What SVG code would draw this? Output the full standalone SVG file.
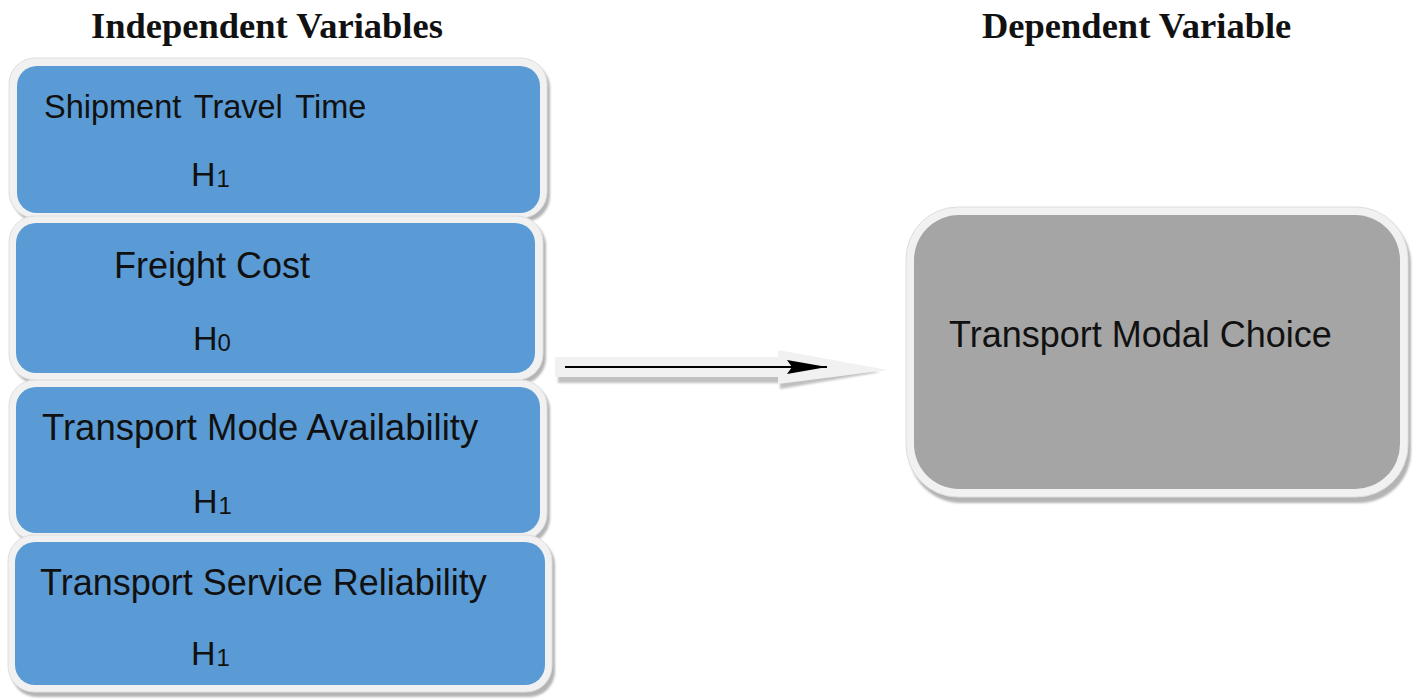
<svg xmlns="http://www.w3.org/2000/svg" width="1418" height="699" viewBox="0 0 1418 699">
<defs>
<filter id="blur" x="-5%" y="-5%" width="110%" height="110%"><feGaussianBlur stdDeviation="1.2"/></filter>
<marker id="ah" viewBox="0 0 40 14" refX="40" refY="7" markerWidth="40" markerHeight="14" markerUnits="userSpaceOnUse" orient="auto">
<path d="M0,0 L40,7 L0,14 L5,7 Z" fill="#000"/>
</marker>
</defs>
<style>
.title{font-family:"Liberation Serif","Times New Roman",serif;font-weight:bold;font-size:36.5px;fill:#111}
.lbl{font-family:"Liberation Sans",Arial,sans-serif;font-size:36px;fill:#111}
.h{font-family:"Liberation Sans",Arial,sans-serif;font-size:34px;fill:#111}
.sub{font-size:24px}
.shadow{fill:#b4b4b4;filter:url(#blur)}
.frame{fill:#f1f1f1;stroke:#dedede;stroke-width:1}
.blue{fill:#5b9bd5}
.gray{fill:#a5a5a5}
</style>
<rect width="1418" height="699" fill="#fff"/>
<text class="title" x="91" y="38">Independent Variables</text>
<text class="title" x="982" y="38">Dependent Variable</text>

<g id="node-shipment">
<rect class="shadow" x="12" y="62" width="538" height="160" rx="26"/>
<rect class="frame" x="9" y="58" width="538" height="160" rx="26"/>
<rect class="blue" x="17" y="66" width="523" height="147" rx="20"/>
<text class="lbl" x="44" y="118" style="font-size:32.5px;word-spacing:4px">Shipment Travel Time</text>
<text class="h" x="191" y="186">H<tspan class="sub" dx="1" dy="1">1</tspan></text>
</g>

<g id="node-freight">
<rect class="shadow" x="12" y="220" width="534" height="164" rx="26"/>
<rect class="frame" x="9" y="216" width="534" height="164" rx="26"/>
<rect class="blue" x="16" y="223" width="519" height="150" rx="20"/>
<text class="lbl" x="114" y="278">Freight Cost</text>
<text class="h" x="193" y="350">H<tspan class="sub" dx="0" dy="1">0</tspan></text>
</g>

<g id="node-availability">
<rect class="shadow" x="12" y="384" width="538" height="160" rx="26"/>
<rect class="frame" x="9" y="380" width="538" height="160" rx="26"/>
<rect class="blue" x="16" y="387" width="524" height="146" rx="20"/>
<text class="lbl" x="42" y="440" style="font-size:36.5px">Transport Mode Availability</text>
<text class="h" x="193" y="513">H<tspan class="sub" dx="1" dy="1">1</tspan></text>
</g>

<g id="node-reliability">
<rect class="shadow" x="11" y="539" width="544" height="158" rx="26"/>
<rect class="frame" x="8" y="535" width="544" height="157" rx="26"/>
<rect class="blue" x="15" y="542" width="530" height="143" rx="20"/>
<text class="lbl" x="40" y="595">Transport Service Reliability</text>
<text class="h" x="191" y="665">H<tspan class="sub" dx="1" dy="1">1</tspan></text>
</g>

<g id="node-choice">
<rect class="shadow" x="909" y="212" width="502" height="291" rx="52"/>
<rect class="frame" x="906" y="207" width="502" height="290" rx="52"/>
<rect class="gray" x="914" y="215" width="486" height="274" rx="45"/>
<text class="lbl" x="949" y="347">Transport Modal Choice</text>
</g>

<g id="connectors">
<polygon points="558,362 780,362 780,355 880,372 780,389 780,383 558,383" fill="#c0c0c0" filter="url(#blur)"/>
<polygon points="555,357 778,357 778,350 888,370 778,384 778,377 555,377" fill="#f1f1f1"/>
<line x1="565" y1="367" x2="827" y2="367" stroke="#000" stroke-width="2" marker-end="url(#ah)"/>
</g>
</svg>
